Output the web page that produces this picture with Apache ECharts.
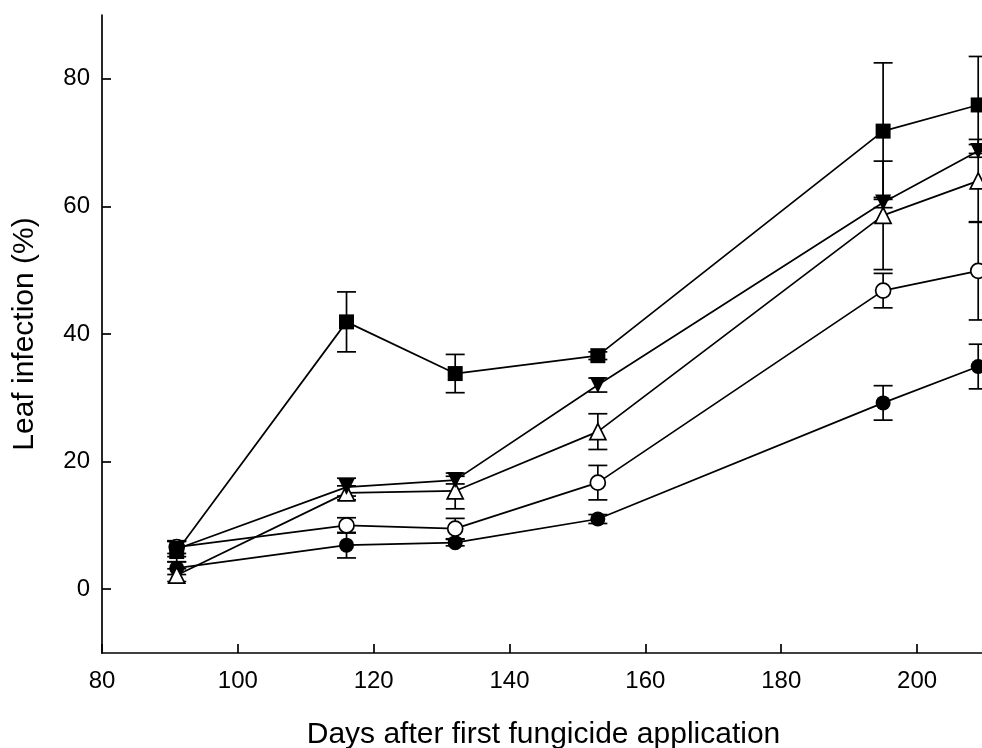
<!DOCTYPE html>
<html>
<head>
<meta charset="utf-8">
<script src="https://cdn.jsdelivr.net/npm/echarts@6/dist/echarts.min.js"></script>
<style>
  html, body { margin: 0; padding: 0; background: #fff; }
  #chart { width: 982px; height: 748px; }
</style>
</head>
<body>
<div id="chart"></div>
<script>
// days after first fungicide application
var days = [91, 116, 132, 153, 195, 209];
var xTicks = [80, 100, 120, 140, 160, 180, 200];
var yTicks = [0, 20, 40, 60, 80];

// leaf infection (%) per treatment, with error bar half-widths
var squareVals = [5.9, 41.9, 33.8, 36.6, 71.8, 75.9];
var squareErr = [1.6, 4.7, 3.0, 0.6, 10.7, 7.6];
var invTriVals = [6.3, 16.0, 17.1, 32.0, 60.6, 68.7];
var invTriErr = [1.2, 1.4, 0.6, 1.1, 0.8, 1.0];
var triVals = [2.2, 15.1, 15.4, 24.7, 58.6, 64.0];
var triErr = [1.0, 1.1, 2.8, 2.8, 8.5, 6.5];
var openCircleVals = [6.6, 10.0, 9.5, 16.7, 46.8, 49.9];
var openCircleErr = [1.0, 1.2, 1.6, 2.7, 2.7, 7.7];
var dotVals = [3.3, 6.9, 7.3, 11.0, 29.2, 34.9];
var dotErr = [1.0, 2.0, 0.5, 0.7, 2.7, 3.5];

var chart = echarts.init(document.getElementById("chart"));

function pairs(vals) {
  return days.map(function (d, i) { return [d, vals[i]]; });
}

// error bar: vertical line with caps
function errorSeries(vals, err) {
  var data = days.map(function (d, i) {
    return [d, vals[i] - err[i], vals[i] + err[i]];
  });
  return {
    type: "custom",
    data: data,
    z: 2,
    renderItem: function (params, api) {
      var lo = api.coord([api.value(0), api.value(1)]);
      var hi = api.coord([api.value(0), api.value(2)]);
      var w = 9.5;
      var style = { stroke: "#000", lineWidth: 1.7 };
      return {
        type: "group",
        children: [
          { type: "line", shape: { x1: lo[0], y1: lo[1], x2: hi[0], y2: hi[1] }, style: style },
          { type: "line", shape: { x1: lo[0] - w, y1: lo[1], x2: lo[0] + w, y2: lo[1] }, style: style },
          { type: "line", shape: { x1: hi[0] - w, y1: hi[1], x2: hi[0] + w, y2: hi[1] }, style: style }
        ]
      };
    }
  };
}

function lineSeries(vals, symbol, filled, size, rotate) {
  return {
    type: "line",
    data: pairs(vals),
    z: 3,
    symbol: symbol,
    symbolSize: size,
    symbolRotate: rotate || 0,
    showAllSymbol: true,
    lineStyle: { color: "#000", width: 1.7 },
    itemStyle: {
      color: filled ? "#000" : "#fff",
      borderColor: "#000",
      borderWidth: filled ? 0 : 1.7,
      opacity: 1
    },
    emphasis: { disabled: true },
    animation: false
  };
}

var option = {
  backgroundColor: "#fff",
  animation: false,
  grid: {
    left: 102,
    top: 15,
    bottom: 95,
    right: -3,
    containLabel: false,
    outerBoundsMode: "none"
  },
  xAxis: {
    type: "value",
    min: 80,
    max: 210,
    interval: 20,
    name: "Days after first fungicide application",
    nameLocation: "middle",
    nameGap: 67,
    nameTextStyle: { fontFamily: "Liberation Sans", fontSize: 30, color: "#000" },
    axisLine: { onZero: false, lineStyle: { color: "#000", width: 1.7 } },
    axisTick: { inside: true, length: 9, customValues: xTicks, lineStyle: { color: "#000", width: 1.7 } },
    axisLabel: { fontFamily: "Liberation Sans", fontSize: 24, color: "#000", margin: 16, customValues: xTicks },
    splitLine: { show: false }
  },
  yAxis: {
    type: "value",
    min: -10,
    max: 90,
    name: "Leaf infection (%)",
    nameLocation: "middle",
    nameGap: 62,
    nameTextStyle: { fontFamily: "Liberation Sans", fontSize: 30, color: "#000" },
    axisLine: { show: true, onZero: false, lineStyle: { color: "#000", width: 1.7 } },
    axisTick: { show: true, inside: true, length: 9, customValues: yTicks, lineStyle: { color: "#000", width: 1.7 } },
    axisLabel: { fontFamily: "Liberation Sans", fontSize: 24, color: "#000", margin: 12, customValues: yTicks },
    splitLine: { show: false }
  },
  series: [
    errorSeries(dotVals, dotErr),
    errorSeries(openCircleVals, openCircleErr),
    errorSeries(triVals, triErr),
    errorSeries(invTriVals, invTriErr),
    errorSeries(squareVals, squareErr),
    lineSeries(dotVals, "circle", true, 15),
    lineSeries(openCircleVals, "circle", false, 15),
    lineSeries(triVals, "triangle", false, 16),
    lineSeries(invTriVals, "triangle", true, 16, 180),
    lineSeries(squareVals, "rect", true, 15)
  ]
};

chart.setOption(option);
</script>
</body>
</html>
